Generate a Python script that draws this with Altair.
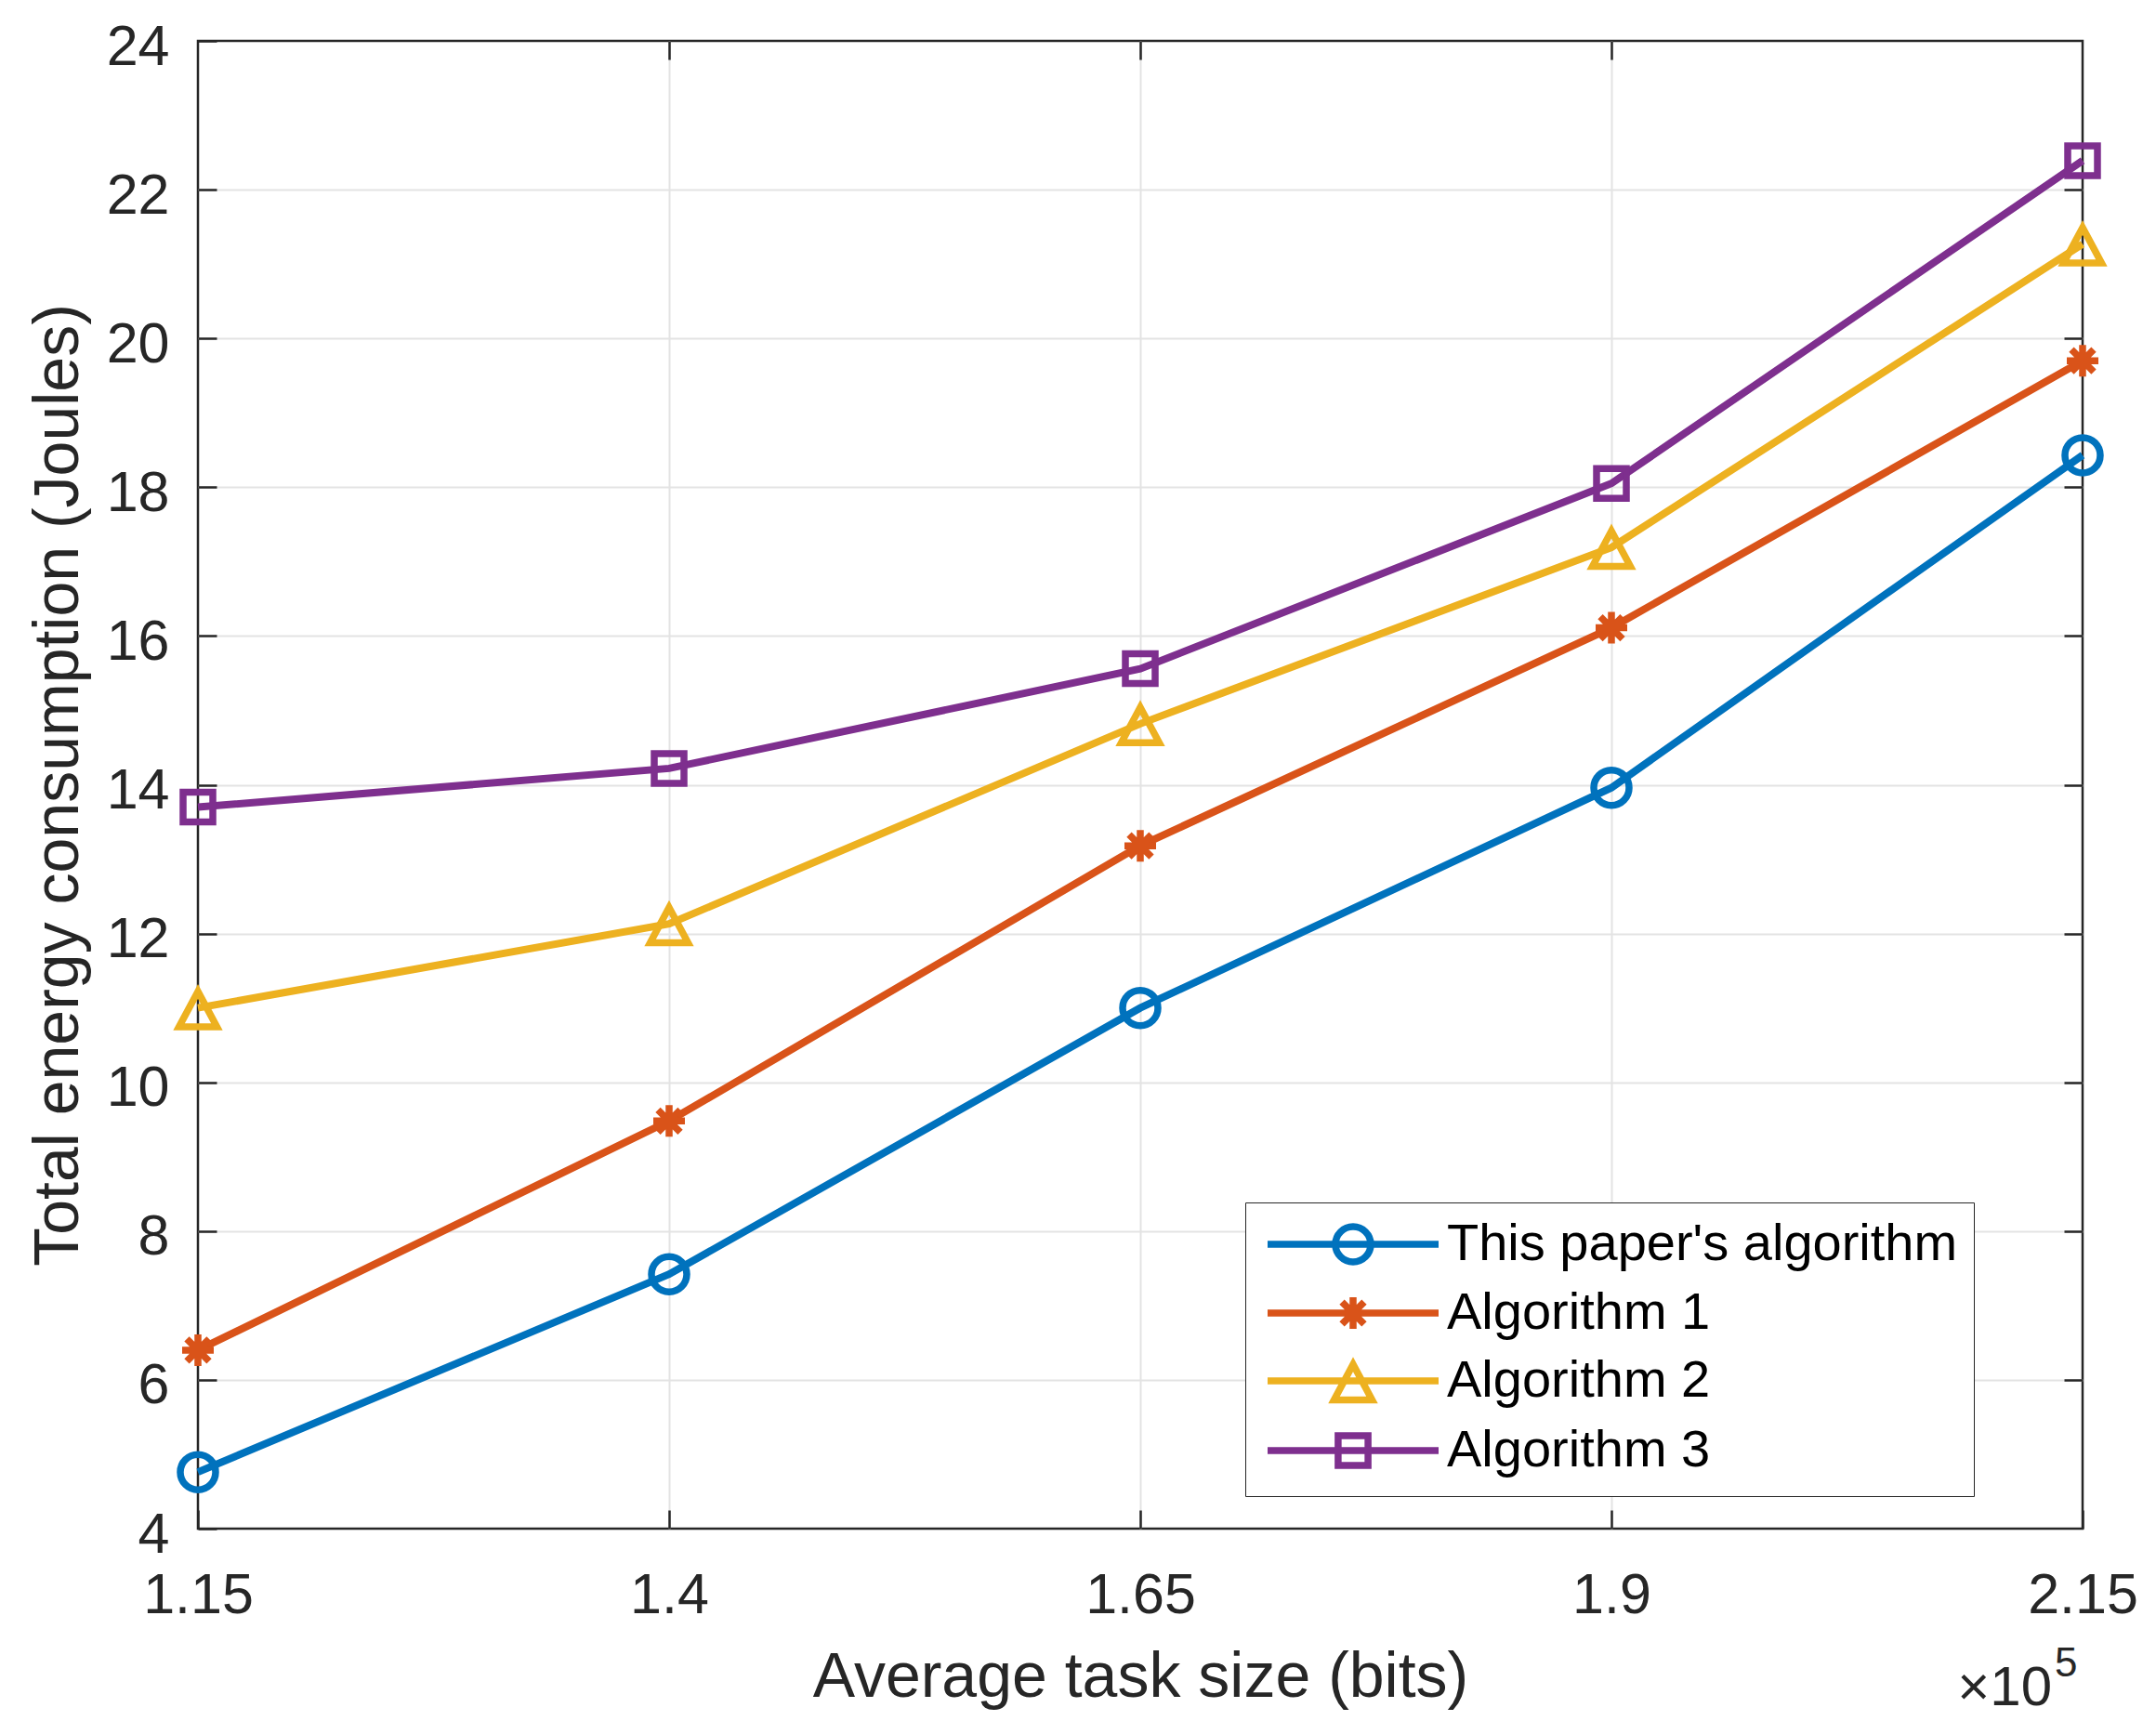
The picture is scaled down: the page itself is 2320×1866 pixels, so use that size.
import altair as alt
import pandas as pd

# ---- data ----
x_vals = [1.15, 1.4, 1.65, 1.9, 2.15]          # average task size (x 1e5 bits)
x_inner = [1.4, 1.65, 1.9]
y_ticks = [4, 6, 8, 10, 12, 14, 16, 18, 20, 22, 24]
y_inner = [6, 8, 10, 12, 14, 16, 18, 20, 22]
series_names = ["This paper's algorithm", "Algorithm 1", "Algorithm 2", "Algorithm 3"]
ours = [4.76, 7.42, 11.0, 13.96, 18.43]
alg1 = [6.40, 9.48, 13.18, 16.11, 19.70]
alg2 = [11.0, 12.13, 14.82, 17.19, 21.27]
alg3 = [13.70, 14.22, 15.56, 18.05, 22.39]
colors = ["#0072BD", "#D95319", "#EDB120", "#7E2F8E"]

rows = []
for name, vals in zip(series_names, [ours, alg1, alg2, alg3]):
    for xv, yv in zip(x_vals, vals):
        rows.append({"size": xv, "energy": yv, "series": name})
df = pd.DataFrame(rows)

# marker shapes (unit = sqrt(size)/2 pixels)
marker_paths = [
    "M0.95,0A0.95,0.95,0,1,1,-0.95,0A0.95,0.95,0,1,1,0.95,0Z",
    "M0,-0.85L0,0.85M-0.85,0L0.85,0M-0.6,-0.6L0.6,0.6M-0.6,0.6L0.6,-0.6",
    "M0,-0.88L-1.02,1.02L1.02,1.02Z",
    "M-0.8,-0.8L0.8,-0.8L0.8,0.8L-0.8,0.8Z",
]
# legend symbols: line + marker (unit = 23 px)
legend_paths = [
    "M-4,0L4,0M0.826,0A0.826,0.826,0,1,1,-0.826,0A0.826,0.826,0,1,1,0.826,0Z",
    "M-4,0L4,0M0,-0.74L0,0.74M-0.74,0L0.74,0M-0.52,-0.52L0.52,0.52M-0.52,0.52L0.52,-0.52",
    "M-4,0L4,0M0,-0.77L-0.89,0.89L0.89,0.89Z",
    "M-4,0L4,0M-0.7,-0.7L0.7,-0.7L0.7,0.7L-0.7,0.7Z",
]

FONT = "Liberation Sans"
INK = "#262626"
GRID = "#e3e3e3"
W, H = 2028, 1601
LW = 8

xscale = alt.Scale(domain=[1.15, 2.15], nice=False, zero=False)
yscale = alt.Scale(domain=[4, 24], nice=False, zero=False)
cscale = alt.Scale(domain=series_names, range=colors)

x_main = alt.Axis(
    orient="bottom", values=x_vals, format=".3~g", offset=-20, tickSize=20,
    tickWidth=2.5, tickColor=INK, domain=False, grid=False,
    labelFont=FONT, labelFontSize=61, labelColor=INK,
    labelPadding=42, labelFlush=False, labelOverlap=False,
    title="Average task size (bits)", titleFont=FONT, titleFontSize=68,
    titleFontWeight="normal", titleColor=INK, titlePadding=24,
)
y_main = alt.Axis(
    orient="left", values=y_ticks, format="d", offset=-20, tickSize=20,
    tickWidth=2.5, tickColor=INK, domain=False, grid=False,
    labelFont=FONT, labelFontSize=61, labelColor=INK,
    labelPadding=31, labelOffset=7, labelFlush=False, labelOverlap=False,
    title="Total energy consumption (Joules)", titleFont=FONT, titleFontSize=68,
    titleFontWeight="normal", titleColor=INK, titlePadding=17,
)
x_top = alt.Axis(orient="top", values=x_inner, offset=-20, tickSize=20, tickWidth=2.5,
                 tickColor=INK, domain=False, grid=True, gridColor=GRID, gridWidth=2,
                 labels=False, title=None)
y_right = alt.Axis(orient="right", values=y_inner, offset=-20, tickSize=20, tickWidth=2.5,
                   tickColor=INK, domain=False, grid=True, gridColor=GRID, gridWidth=2,
                   labels=False, title=None)

base = alt.Chart(df)

lines = base.mark_line(strokeWidth=LW).encode(
    x=alt.X("size:Q", scale=xscale, axis=x_main),
    y=alt.Y("energy:Q", scale=yscale, axis=y_main),
    color=alt.Color("series:N", scale=cscale, legend=None),
)

points = base.mark_point(filled=False, strokeWidth=7.5, size=1600, opacity=1).encode(
    x=alt.X("size:Q", scale=xscale, axis=x_top),
    y=alt.Y("energy:Q", scale=yscale, axis=y_right),
    color=alt.Color("series:N", scale=cscale, legend=None),
    shape=alt.Shape("series:N", scale=alt.Scale(domain=series_names, range=marker_paths), legend=None),
)

leg = dict(
    title=None, orient="none", legendX=1127, legendY=1250, direction="vertical",
    strokeColor=INK, fillColor="white", padding=17, symbolSize=2116,
    symbolOffset=71, symbolStrokeWidth=7.5, symbolOpacity=1, labelFont=FONT,
    labelFontSize=56, labelColor="#000000", labelOffset=73, labelLimit=2000,
    rowPadding=7,
)
legend_layer = base.mark_point(filled=False, strokeWidth=7.5, opacity=0).encode(
    x=alt.X("size:Q", scale=xscale, axis=None),
    y=alt.Y("energy:Q", scale=yscale, axis=None),
    color=alt.Color("series:N", scale=cscale, legend=alt.Legend(**leg)),
    shape=alt.Shape("series:N", scale=alt.Scale(domain=series_names, range=legend_paths),
                    legend=alt.Legend(**leg)),
)

exp_base = alt.Chart(pd.DataFrame({"t": ["\u00d710"]})).mark_text(
    font=FONT, fontSize=60, color=INK, align="right", baseline="alphabetic"
).encode(text="t:N", x=alt.value(1995), y=alt.value(1791))
exp_sup = alt.Chart(pd.DataFrame({"t": ["5"]})).mark_text(
    font=FONT, fontSize=44, color=INK, align="left", baseline="alphabetic"
).encode(text="t:N", x=alt.value(1998), y=alt.value(1760))

chart = (
    alt.layer(lines, points, legend_layer, exp_base, exp_sup)
    .resolve_axis(x="independent", y="independent")
    .resolve_scale(shape="independent")
    .resolve_legend(color="independent", shape="independent")
    .properties(
        width=W, height=H,
        autosize=alt.AutoSizeParams(type="none"),
        padding={"left": 205, "top": 36, "right": 70, "bottom": 212},
        background="white",
    )
    .configure_view(stroke=INK, strokeWidth=2.5)
)

chart.save("out.html", embed_options={"renderer": "svg", "actions": False})
